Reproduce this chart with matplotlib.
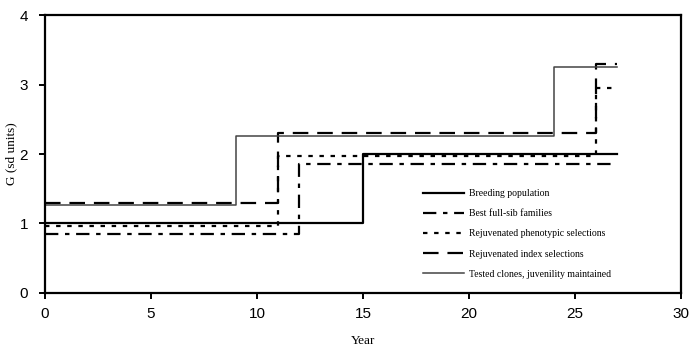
import matplotlib.pyplot as plt

# step changes (year, G) for each strategy
breed_years = [0, 15, 27]
breed_g = [1.0, 2.0, 2.0]

fullsib_years = [0, 12, 27]
fullsib_g = [0.85, 1.86, 1.86]

pheno_years = [0, 11, 26, 27]
pheno_g = [0.97, 1.97, 2.95, 2.95]

index_years = [0, 11, 26, 27]
index_g = [1.30, 2.30, 3.29, 3.29]

clone_years = [0, 9, 24, 27]
clone_g = [1.26, 2.26, 3.25, 3.25]

labels = ['Breeding population', 'Best full-sib families',
          'Rejuvenated phenotypic selections', 'Rejuvenated index selections',
          'Tested clones, juvenility maintained']

fig = plt.figure(figsize=(7, 3.52), dpi=100)
ax = fig.add_axes([0.064, 0.168, 0.909, 0.789])

ax.step(breed_years, breed_g, where='post', color='black', lw=1.6, label=labels[0])
ax.step(fullsib_years, fullsib_g, where='post', color='black', lw=1.6,
        linestyle=(0, (6, 3, 2, 3)), label=labels[1])
ax.step(pheno_years, pheno_g, where='post', color='black', lw=1.6,
        linestyle=(0, (2, 3)), label=labels[2])
ax.step(index_years, index_g, where='post', color='black', lw=1.6,
        linestyle=(0, (7, 4)), label=labels[3])
ax.step(clone_years, clone_g, where='post', color='#444444', lw=1.1, label=labels[4])

ax.set_xlim(0, 30)
ax.set_ylim(0, 4)
ax.set_xticks(range(0, 31, 5))
ax.set_yticks(range(0, 5))
for s in ax.spines.values():
    s.set_linewidth(1.6)
ax.tick_params(direction='out', length=4, width=1.4, labelsize=11)
ax.tick_params(axis='x', pad=6)
ax.tick_params(axis='y', pad=8)
for t in ax.get_xticklabels() + ax.get_yticklabels():
    t.set_family('Liberation Sans')

ax.set_xlabel('Year', family='Liberation Serif', fontsize=9.5, labelpad=10)
ax.set_ylabel('G (sd units)', family='Liberation Serif', fontsize=9.5)
ax.yaxis.set_label_coords(-0.044, 0.5)

ax.legend(loc='upper left', bbox_to_anchor=(0.58, 0.405), frameon=False,
          prop={'family': 'Liberation Serif', 'size': 7},
          handlelength=4.3, labelspacing=1.15, handletextpad=0.5)

fig.savefig('out.png', dpi=100)
